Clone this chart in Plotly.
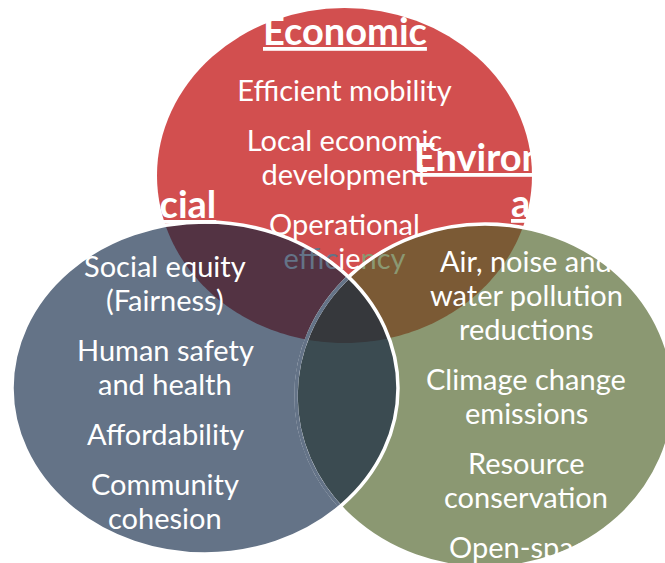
import numpy as np
import plotly.graph_objects as go

# ---------------- data ----------------
circle_titles = ["Economic", "Social", "Environmental"]
economic_items = ["Efficient mobility", "Local economic\ndevelopment", "Operational\nefficiency"]
social_items = ["Social equity\n(Fairness)", "Human safety\nand health", "Affordability", "Community\ncohesion"]
environmental_items = ["Air, noise and\nwater pollution\nreductions", "Climage change\nemissions",
                       "Resource\nconservation", "Open-space"]

# ---------------- layout / style ----------------
W, H = 665, 563
E_RED = (344.5, 175.5, 187.5, 167.5)   # cx, cy, rx, ry (pixel space)
E_SOC = (205.0, 388.0, 193.0, 166.0)
E_GRN = (485.0, 396.0, 189.0, 172.0)

C_RED, C_SOC, C_GRN = "#D24F4F", "#647387", "#8B9872"
C_RS, C_RG, C_SG, C_RSG = "#533343", "#7B5A35", "#3B4B51", "#36383C"
FONT = "Lato"
ITEM_SIZE = 29
TITLE_SIZE = 38


def ell_pts(e, n=360):
    cx, cy, rx, ry = e
    t = np.linspace(0, 2 * np.pi, n, endpoint=False)
    return list(zip(cx + rx * np.cos(t), cy + ry * np.sin(t)))


def clip(subject, clipper):
    out = subject
    m = len(clipper)
    area = sum(clipper[i][0] * clipper[(i + 1) % m][1] - clipper[(i + 1) % m][0] * clipper[i][1] for i in range(m))
    s = 1 if area > 0 else -1
    for i in range(m):
        ax, ay = clipper[i]
        bx, by = clipper[(i + 1) % m]
        ex, ey = bx - ax, by - ay
        inp = out
        out = []
        if not inp:
            break

        def inside(p):
            return s * (ex * (p[1] - ay) - ey * (p[0] - ax)) >= 0

        def inter(p, q):
            x1, y1 = p
            dx, dy = q[0] - x1, q[1] - y1
            den = dx * ey - dy * ex
            t = ((ax - x1) * ey - (ay - y1) * ex) / den
            return (x1 + t * dx, y1 + t * dy)

        prev = inp[-1]
        for cur in inp:
            if inside(cur):
                if not inside(prev):
                    out.append(inter(prev, cur))
                out.append(cur)
            elif inside(prev):
                out.append(inter(prev, cur))
            prev = cur
    return out


def path(pts, close=True):
    d = "M " + " L ".join(f"{x:.2f},{y:.2f}" for x, y in pts)
    return d + (" Z" if close else "")


def inside_ell(p, e):
    cx, cy, rx, ry = e
    return ((p[0] - cx) / rx) ** 2 + ((p[1] - cy) / ry) ** 2 < 1


R, S, G = ell_pts(E_RED), ell_pts(E_SOC), ell_pts(E_GRN)
RS = clip(R, S)
RG = clip(R, G)
SG = clip(S, G)
RSG = clip(RS, G)

shapes = []
for e, c in [(E_RED, C_RED), (E_GRN, C_GRN), (E_SOC, C_SOC)]:
    cx, cy, rx, ry = e
    shapes.append(dict(type="circle", xref="x", yref="y", x0=cx - rx, x1=cx + rx, y0=cy - ry, y1=cy + ry,
                       fillcolor=c, line=dict(width=0), layer="below"))
for poly, c in [(RS, C_RS), (RG, C_RG), (SG, C_SG), (RSG, C_RSG)]:
    shapes.append(dict(type="path", xref="x", yref="y", path=path(poly), fillcolor=c,
                       line=dict(width=0), layer="below"))

# outlines
cx, cy, rx, ry = E_GRN
shapes.append(dict(type="circle", xref="x", yref="y", x0=cx - rx, x1=cx + rx, y0=cy - ry, y1=cy + ry,
                   fillcolor="rgba(0,0,0,0)", line=dict(width=3.5, color="white"), layer="above"))
# part of green outline beneath social circle (tinted)
G_dense = ell_pts(E_GRN, 1440)
arc = [p for p in G_dense if inside_ell(p, E_SOC)]
shapes.append(dict(type="path", xref="x", yref="y", path=path(arc, close=False),
                   line=dict(width=3.5, color=C_SOC), layer="above"))
cx, cy, rx, ry = E_SOC
shapes.append(dict(type="circle", xref="x", yref="y", x0=cx - rx, x1=cx + rx, y0=cy - ry, y1=cy + ry,
                   fillcolor="rgba(0,0,0,0)", line=dict(width=3.5, color="white"), layer="above"))


def line_positions(items, y0, line_h=34, item_gap=50):
    out = []
    y = y0
    for it in items:
        for ln in it.split("\n"):
            out.append((ln, y))
            y += line_h
        y += item_gap - line_h
    return out


# tint of text lying under the other circles
TINT = {"efficiency": [("effic", C_SOC), ("ie", "white"), ("ncy", C_GRN)]}


def styled(ln):
    if ln in TINT:
        return "".join(f'<span style="color:{c}">{t}</span>' for t, c in TINT[ln])
    return ln


fig = go.Figure()
econ = line_positions(economic_items, 94)
fig.add_trace(go.Scatter(x=[344.5] * len(econ), y=[y for _, y in econ], text=[styled(t) for t, _ in econ],
                         mode="text", textposition="middle center",
                         textfont=dict(family=FONT, size=ITEM_SIZE, color="white"),
                         hoverinfo="skip", showlegend=False))

annotations = []
for (ln, y) in line_positions(social_items, 265):
    annotations.append(dict(x=165, y=y, text=ln, showarrow=False, xanchor="center", yanchor="middle",
                            font=dict(family=FONT, size=ITEM_SIZE, color="white")))
for (ln, y) in line_positions(environmental_items, 260):
    annotations.append(dict(x=526, y=y, text=ln, showarrow=False, xanchor="center", yanchor="middle",
                            font=dict(family=FONT, size=ITEM_SIZE, color="white")))

tfont = dict(family=FONT, size=TITLE_SIZE, color="white")
annotations.append(dict(x=345, y=30, text=f"<b><u>{circle_titles[0]}</u></b>", showarrow=False,
                        xanchor="center", yanchor="middle", font=tfont))
annotations.append(dict(x=218, y=203, text=f"<b><u>{circle_titles[1]}</u></b>", showarrow=False,
                        xanchor="right", yanchor="middle", font=tfont))
env = circle_titles[2]
annotations.append(dict(x=412, y=156, text=f"<b><u>{env[:-2]}</u></b>", showarrow=False,
                        xanchor="left", yanchor="middle", font=tfont))
annotations.append(dict(x=509, y=202, text=f"<b><u>{env[-2:]}</u></b>", showarrow=False,
                        xanchor="left", yanchor="middle", font=tfont))

fig.update_layout(
    width=W, height=H, margin=dict(l=0, r=0, t=0, b=0),
    paper_bgcolor="white", plot_bgcolor="white",
    xaxis=dict(range=[0, W], visible=False, fixedrange=True),
    yaxis=dict(range=[H, 0], visible=False, fixedrange=True),
    shapes=shapes, annotations=annotations, showlegend=False,
)
fig.write_html("out.html", config={"displayModeBar": False, "staticPlot": True},
               post_script="document.body.style.margin='0';document.body.style.overflow='hidden';")
